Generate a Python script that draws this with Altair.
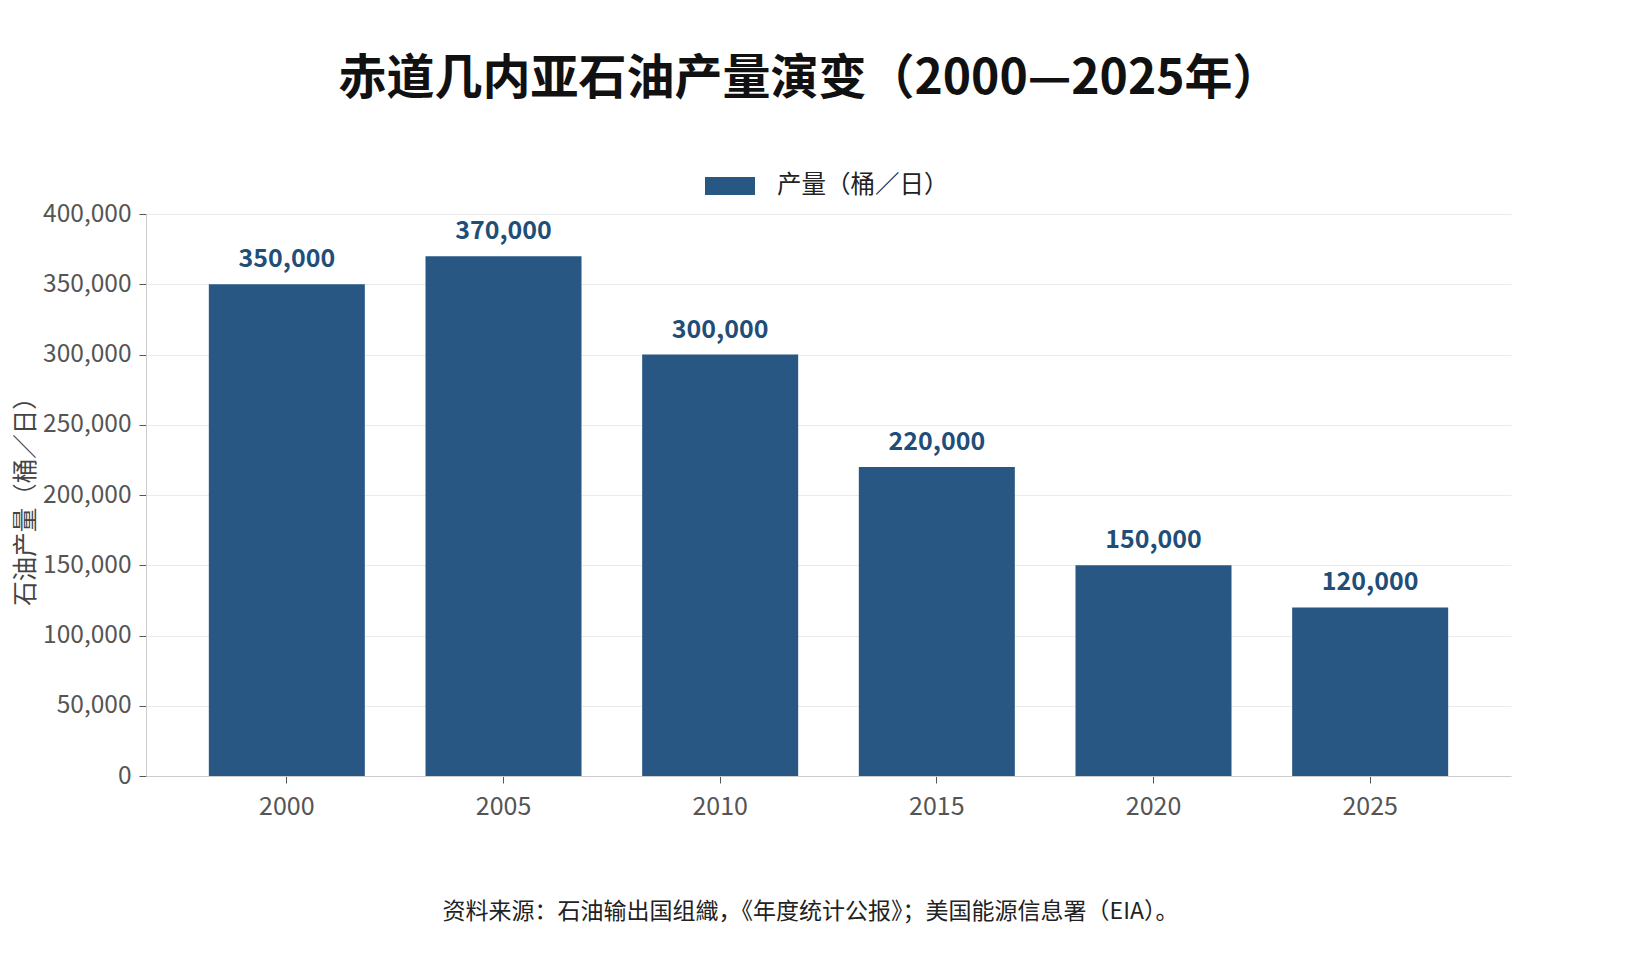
import pandas as pd
import altair as alt

YEARS = ["2000", "2005", "2010", "2015", "2020", "2025"]
OUTPUT = [350000, 370000, 300000, 220000, 150000, 120000]
SERIES = "产量（桶／日）"

TITLE = "赤道几内亚石油产量演变（2000—2025年）"
Y_TITLE = "石油产量（桶／日）"
SOURCE = "资料来源：石油输出国组織，《年度统计公报》；美国能源信息署（EIA）。"
Y_TICKS = [0, 50000, 100000, 150000, 200000, 250000, 300000, 350000, 400000]

BAR_BLUE = "#275782"
LABEL_BLUE = "#1f4e79"
AXIS_GRAY = "#555555"
FONT = "Noto Sans CJK SC"

df = pd.DataFrame({"Year": YEARS, "Output": OUTPUT})
df["Series"] = SERIES

x_axis = alt.Axis(
    title=SOURCE,
    labelAngle=0,
    labelFontSize=25,
    labelColor=AXIS_GRAY,
    labelPadding=11,
    tickColor=AXIS_GRAY,
    tickSize=7,
    domainColor="#cccccc",
    titleFontSize=23,
    titleFontWeight="normal",
    titleColor="#222222",
    titleX=664,
    titleY=135,
    titleAlign="center",
    titleBaseline="middle",
    titleLimit=1200,
)
y_axis = alt.Axis(
    title=Y_TITLE,
    values=Y_TICKS,
    format=",.0f",
    formatType="number",
    labelFontSize=24.5,
    labelColor=AXIS_GRAY,
    labelPadding=8,
    tickColor=AXIS_GRAY,
    tickSize=7,
    domainColor="#cccccc",
    grid=True,
    gridColor="#ebebeb",
    titleFontSize=24.5,
    titleFontWeight="normal",
    titleColor="#444444",
    titleX=-120,
    titleY=281,
    titleAngle=-90,
    titleAlign="center",
    titleBaseline="middle",
    titleLimit=400,
)
x_enc = alt.X("Year:N", sort=YEARS,
              scale=alt.Scale(paddingInner=0.28, paddingOuter=0.29), axis=x_axis)
y_enc = alt.Y("Output:Q", scale=alt.Scale(domain=[0, 400000]), axis=y_axis)

base = alt.Chart(df)

bars = base.mark_bar(color=BAR_BLUE).encode(
    x=x_enc,
    y=y_enc,
    color=alt.Color(
        "Series:N",
        scale=alt.Scale(domain=[SERIES], range=[BAR_BLUE]),
        legend=alt.Legend(
            title=None,
            orient="none",
            legendX=559,
            legendY=-53,
            symbolType="M-1,-0.36L1,-0.36L1,0.36L-1,0.36Z",
            symbolSize=2500,
            symbolStrokeWidth=0,
            labelFontSize=24.5,
            labelColor="#222222",
            labelOffset=22,
            labelLimit=400,
        ),
    ),
)

labels = base.mark_text(
    fontSize=25, fontWeight="bold", color=LABEL_BLUE, baseline="middle", dy=-25
).encode(
    x=x_enc,
    y=y_enc,
    text=alt.Text("Output:Q", format=","),
)

chart = (
    alt.layer(bars, labels)
    .properties(
        width=1365,
        height=562,
        autosize=alt.AutoSizeParams(type="none"),
        padding={"left": 138, "top": 206, "right": 106, "bottom": 184},
        title=alt.TitleParams(
            TITLE,
            fontSize=48,
            fontWeight="bold",
            color="#111111",
            anchor="middle",
            dx=-19,
            offset=57,
        ),
    )
    .configure(font=FONT)
    .configure_view(strokeWidth=0)
)

chart.save("out.html", embed_options={"renderer": "svg", "actions": False})
